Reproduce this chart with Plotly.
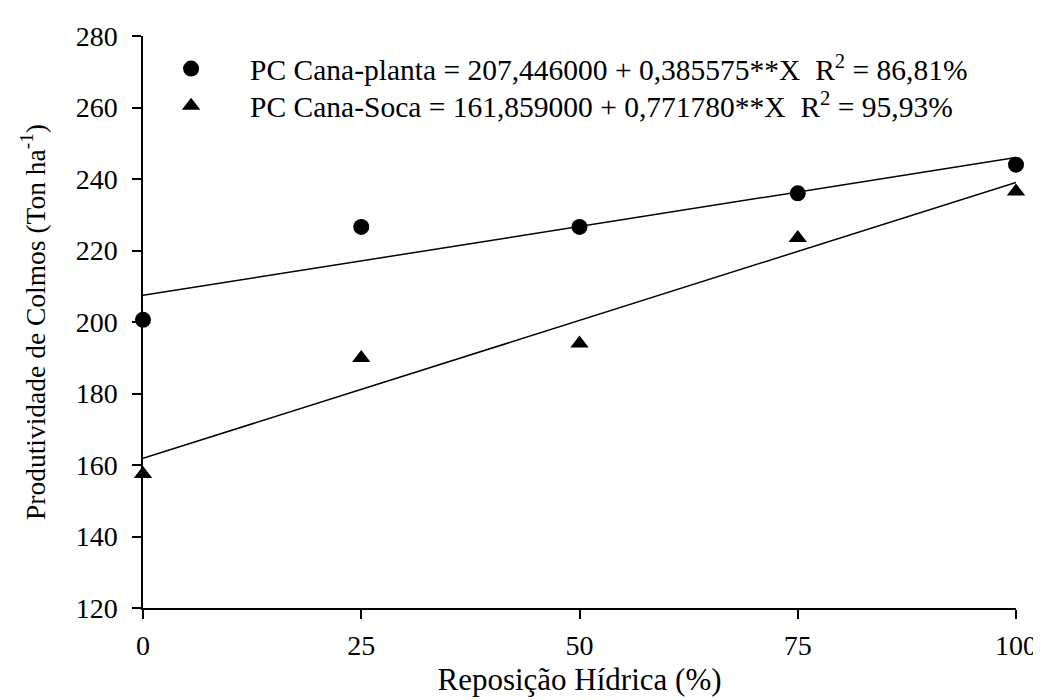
import plotly.graph_objects as go

# Data
reposicao = [0, 25, 50, 75, 100]
cana_planta = [200.6, 226.6, 226.6, 236.0, 244.0]
cana_soca = [157.5, 189.9, 194.0, 223.5, 236.5]

# Regression coefficients (from the chart's equations)
planta_b0, planta_b1 = 207.446, 0.385575
soca_b0, soca_b1 = 161.859, 0.771780
x_line = [0, 100]

name_planta = "PC Cana-planta = 207,446000 + 0,385575**X  R<sup>2</sup> = 86,81%"
name_soca = "PC Cana-Soca = 161,859000 + 0,771780**X  R<sup>2</sup> = 95,93%"

x_ticks = [0, 25, 50, 75, 100]
y_ticks = [120, 140, 160, 180, 200, 220, 240, 260, 280]

FONT = "Liberation Serif, Times New Roman, serif"

fig = go.Figure()
fig.add_trace(go.Scatter(x=x_line, y=[planta_b0 + planta_b1 * v for v in x_line],
                         mode="lines", line=dict(color="black", width=1.5),
                         showlegend=False, hoverinfo="skip"))
fig.add_trace(go.Scatter(x=x_line, y=[soca_b0 + soca_b1 * v for v in x_line],
                         mode="lines", line=dict(color="black", width=1.5),
                         showlegend=False, hoverinfo="skip"))
fig.add_trace(go.Scatter(x=reposicao, y=cana_planta, mode="markers", name=name_planta,
                         marker=dict(symbol="circle", size=16, color="black"),
                         cliponaxis=False, legend="legend"))
fig.add_trace(go.Scatter(x=reposicao, y=cana_soca, mode="markers", name=name_soca,
                         marker=dict(symbol="triangle-up", size=16, color="black"),
                         cliponaxis=False, legend="legend2"))

leg_common = dict(xanchor="left", yanchor="top", bgcolor="rgba(0,0,0,0)",
                  font=dict(family=FONT, size=29.5, color="black"), itemwidth=108)

fig.update_layout(
    width=1041, height=700,
    paper_bgcolor="white", plot_bgcolor="white",
    margin=dict(l=135, r=24, t=28, b=100),
    font=dict(family=FONT, size=28, color="black"),
    legend=dict(x=-0.0125, y=0.988, **leg_common),
    legend2=dict(x=-0.0125, y=0.923, **leg_common),
    xaxis=dict(range=[0, 100], tickvals=x_ticks, showgrid=False, zeroline=False,
               showline=True, linecolor="black", linewidth=1.5,
               ticks="outside", ticklen=9, tickwidth=1.5, tickcolor="black",
               tickfont=dict(family=FONT, size=28, color="black"),
               ticklabelstandoff=3, ticklabeloverflow="allow",
               title=dict(text="Reposição Hídrica (%)", standoff=8,
                          font=dict(family=FONT, size=31, color="black"))),
    yaxis=dict(range=[120, 280], tickvals=y_ticks, showgrid=False, zeroline=False,
               showline=True, linecolor="black", linewidth=1.5,
               ticks="outside", ticklen=9, tickwidth=1.5, tickcolor="black",
               tickfont=dict(family=FONT, size=28, color="black"),
               ticklabelstandoff=9, ticklabeloverflow="allow",
               title=dict(text="Produtividade de Colmos (Ton ha<sup>-1</sup>)", standoff=22,
                          font=dict(family=FONT, size=27.5, color="black"))),
)

fig.write_html("out.html")
